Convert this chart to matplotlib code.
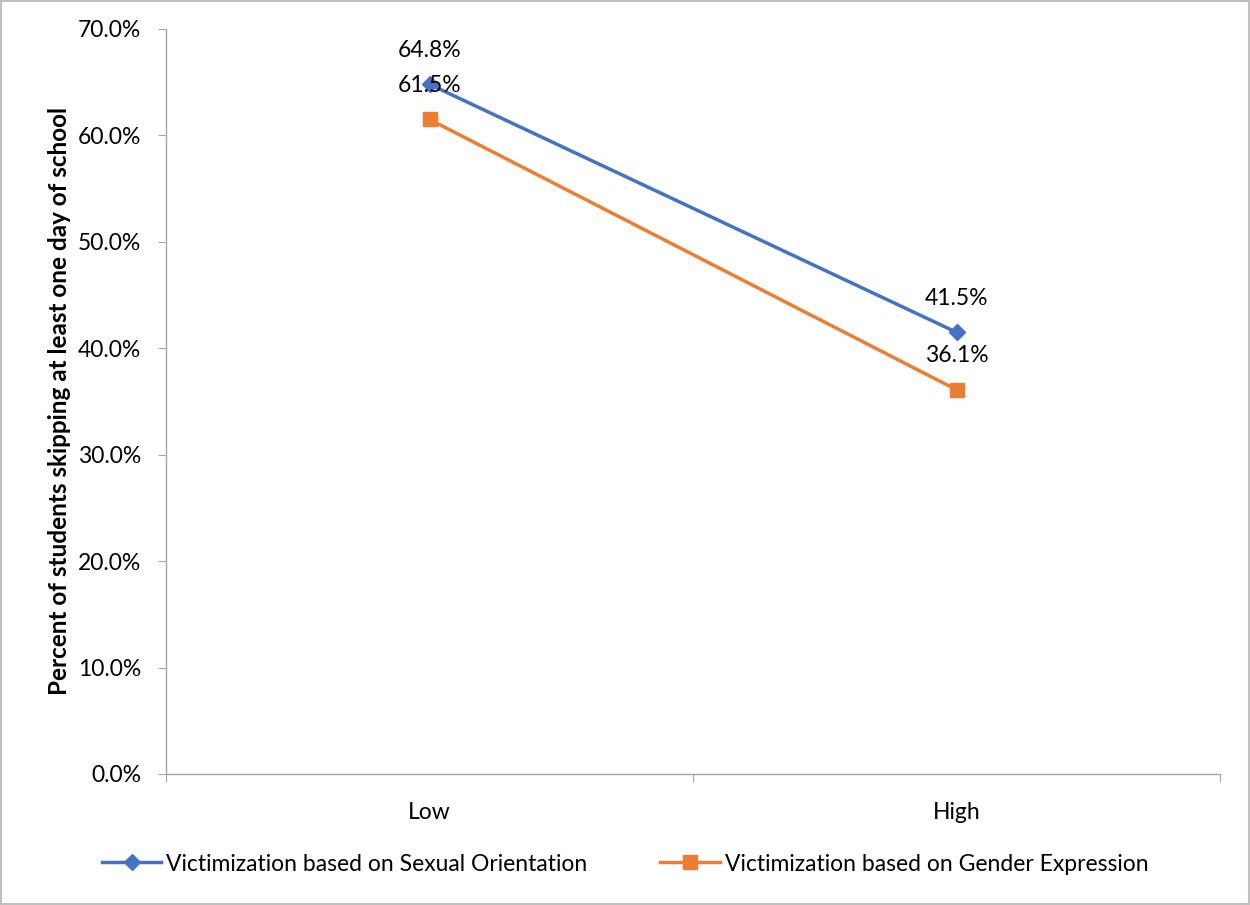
import matplotlib
matplotlib.use("Agg")
import matplotlib.pyplot as plt
from matplotlib.patches import Rectangle

plt.rcParams['font.family'] = ['Lato', 'DejaVu Sans']

categories = ['Low', 'High']
sexual_orientation = [64.8, 41.5]
gender_expression = [61.5, 36.1]
yticks = [0, 10, 20, 30, 40, 50, 60, 70]

blue = '#4472C4'
orange = '#ED7D31'
gray = '#A6A6A6'
fs = 16.5

fig = plt.figure(figsize=(12.5, 9.05), dpi=100)
ax = fig.add_axes([0.1328, 0.1448, 0.976 - 0.1328, 0.968 - 0.1448])

x = [i + 0.5 for i in range(len(categories))]
ax.plot(x, sexual_orientation, color=blue, lw=2.5, marker='D', ms=8,
        label='Victimization based on Sexual Orientation')
ax.plot(x, gender_expression, color=orange, lw=2.5, marker='s', ms=10,
        label='Victimization based on Gender Expression')

for xi, v in zip(x, sexual_orientation):
    ax.annotate(f'{v:.1f}%', (xi, v), xytext=(0, 24.5), textcoords='offset points',
                ha='center', va='center', fontsize=fs)
for xi, v in zip(x, gender_expression):
    ax.annotate(f'{v:.1f}%', (xi, v), xytext=(0, 24.5), textcoords='offset points',
                ha='center', va='center', fontsize=fs)

ax.set_xlim(0, len(categories))
ax.set_ylim(0, 70)
ax.set_yticks(yticks)
ax.set_yticklabels([f'{t:.1f}%' for t in yticks], fontsize=fs)
ax.set_xticks(range(len(categories) + 1))
ax.set_xticklabels([])
ax.set_xticks(x, minor=True)
ax.set_xticklabels(categories, minor=True, fontsize=fs)
ax.tick_params(axis='x', which='minor', length=0, pad=20)
ax.tick_params(axis='x', which='major', length=6, color=gray, direction='out')
ax.tick_params(axis='y', length=6, color=gray, direction='out', pad=12)

for s in ['top', 'right']:
    ax.spines[s].set_visible(False)
for s in ['left', 'bottom']:
    ax.spines[s].set_color(gray)
    ax.spines[s].set_linewidth(1)

ax.set_ylabel('Percent of students skipping at least one day of school',
              fontsize=17.5, fontweight='bold', labelpad=5)

fig.legend(loc='center', bbox_to_anchor=(0.5, 1 - 864 / 905), ncol=2,
           frameon=False, fontsize=fs, handlelength=2.6, columnspacing=3.2,
           handletextpad=0.2)

fig.patches.append(Rectangle((0.001, 0.001), 0.998, 0.998, transform=fig.transFigure,
                             fill=False, edgecolor='#BFBFBF', lw=1.5))

fig.savefig('out.png', dpi=100)
